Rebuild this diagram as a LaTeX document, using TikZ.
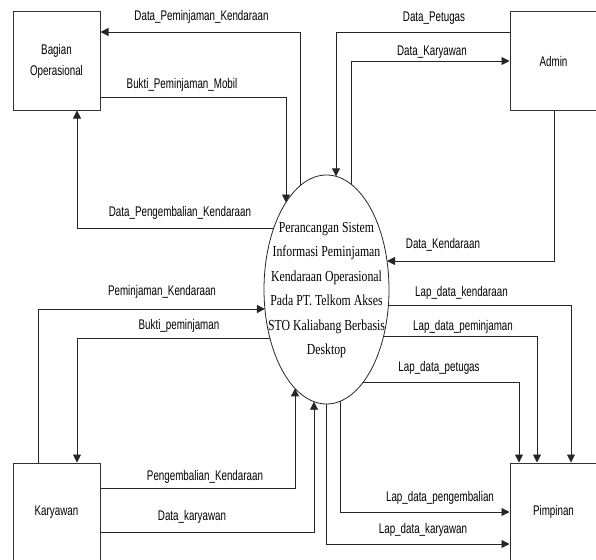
\documentclass[tikz,border=0pt]{standalone}
\usepackage{fontspec}
\usetikzlibrary{arrows.meta,shapes.geometric,calc}
\newfontfamily\labfont[FakeStretch=0.7]{Liberation Sans}
\newfontfamily\elfont[FakeStretch=0.77]{Liberation Serif}
\begin{document}
\begin{tikzpicture}[x=1pt,y=-1pt,
  entity/.style={draw=black!80,line width=1pt,minimum width=87pt,minimum height=98pt,inner sep=0pt,align=center,
     font=\labfont\fontsize{14}{21}\selectfont},
  flow/.style={draw=black!85,line width=0.9pt,-{Triangle[length=8pt,width=8pt]}},
  lab/.style={inner sep=0pt,font=\labfont\fontsize{14}{16}\selectfont}]
\useasboundingbox (0,0) rectangle (596,559);
% entities
\node[entity] (B) at (56.5,61) {Bagian\\Operasional};
\node[entity] (A) at (553.5,61) {Admin};
\node[entity] (K) at (56.5,512) {Karyawan};
\node[entity] (P) at (553.5,512) {Pimpinan};
% process
\node[draw=black!85,line width=0.8pt,ellipse,minimum width=125pt,minimum height=229pt,inner sep=0pt] (E) at (326.5,289.5) {};
\node[inner sep=0pt,align=center,font=\elfont\fontsize{15.3}{24.5}\selectfont] (Et) at (326.5,290)
  {Perancangan Sistem\\Informasi Peminjaman\\Kendaraan Operasional\\Pada PT. Telkom Akses\\STO Kaliabang Berbasis\\Desktop};
% points on the ellipse
\coordinate (e1) at (300,185.8);
\coordinate (e2) at (286,202.5);
\coordinate (e3) at (273.8,228);
\coordinate (e4) at (336,176.3);
\coordinate (e5) at (351,184);
\coordinate (e6) at (387,261);
\coordinate (e7) at (388.4,305);
\coordinate (e8) at (383.6,336);
\coordinate (e9) at (363.3,382);
\coordinate (e10) at (340,401);
\coordinate (e11) at (326,404);
\coordinate (e12) at (264.9,309);
\coordinate (e13) at (269.9,338);
\coordinate (e14) at (295,388.4);
\coordinate (e15) at (314,401.7);
% flows
\draw[flow] (e1) |- (B.east |- 0,32);
\draw[flow] (B.east |- 0,97) -| (e2);
\draw[flow] (e3) -| (B.south -| 77,0);
\draw[flow] (A.west |- 0,32) -| (e4);
\draw[flow] (e5) |- (A.west |- 0,61);
\draw[flow] (A.south -| 554,0) |- (e6);
\draw[flow] (e7) -| (P.north -| 571,0);
\draw[flow] (e8) -| (P.north -| 537,0);
\draw[flow] (e9) -| (P.north -| 519,0);
\draw[flow] (e10) |- (P.west |- 0,512);
\draw[flow] (e11) |- (P.west |- 0,544);
\draw[flow] (K.north -| 38,0) |- (e12);
\draw[flow] (e13) -| (K.north -| 77,0);
\draw[flow] (K.east |- 0,488) -| (e14);
\draw[flow] (K.east |- 0,532) -| (e15);
% labels
\node[lab] (l1) at (201.5,17) {Data\_Peminjaman\_Kendaraan};
\node[lab] (l2) at (182,85) {Bukti\_Peminjaman\_Mobil};
\node[lab] (l3) at (180,213) {Data\_Pengembalian\_Kendaraan};
\node[lab] (l4) at (434,18) {Data\_Petugas};
\node[lab] (l5) at (432,52) {Data\_Karyawan};
\node[lab] (l6) at (443,245) {Data\_Kendaraan};
\node[lab] (l7) at (461.5,293) {Lap\_data\_kendaraan};
\node[lab] (l8) at (463,327) {Lap\_data\_peminjaman};
\node[lab] (l9) at (439,368) {Lap\_data\_petugas};
\node[lab] (l10) at (440,498) {Lap\_data\_pengembalian};
\node[lab] (l11) at (423,530) {Lap\_data\_karyawan};
\node[lab] (l12) at (162,292) {Peminjaman\_Kendaraan};
\node[lab] (l13) at (179,326) {Bukti\_peminjaman};
\node[lab] (l14) at (205,477) {Pengembalian\_Kendaraan};
\node[lab] (l15) at (192,517) {Data\_karyawan};
\end{tikzpicture}
\end{document}
